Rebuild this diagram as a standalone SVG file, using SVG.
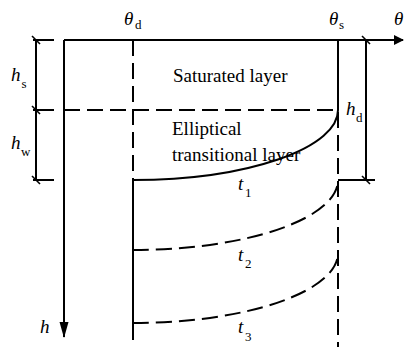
<svg xmlns="http://www.w3.org/2000/svg" width="404" height="347" viewBox="0 0 404 347">
<defs>
<style>
.ln{stroke:#000;stroke-width:2;fill:none}
.ds{stroke:#000;stroke-width:2;fill:none;stroke-dasharray:16 7}
.tk{stroke:#000;stroke-width:1.6}
.lb{font-family:"Liberation Serif","Times New Roman",serif;font-size:19px;fill:#000}
.it{font-family:"Liberation Serif","Times New Roman",serif;font-size:19px;font-style:italic;fill:#000}
.sb{font-family:"Liberation Serif","Times New Roman",serif;font-size:13px;fill:#000}
</style>
<marker id="ar" markerWidth="10" markerHeight="10" refX="9" refY="5" orient="auto" markerUnits="userSpaceOnUse">
<path d="M0,0 L10,5 L0,10 Z" fill="#000"/>
</marker>
<marker id="arv" markerWidth="16" markerHeight="10" refX="15" refY="5" orient="auto" markerUnits="userSpaceOnUse">
<path d="M0,0.5 L16,5 L0,9.5 Z" fill="#000"/>
</marker>
</defs>
<g id="connectors">
<line class="ln" x1="64" y1="40" x2="403" y2="40" marker-end="url(#ar)"/>
<line class="ln" x1="64" y1="40" x2="64" y2="337" marker-end="url(#arv)"/>
<line class="ln" x1="36" y1="40" x2="36" y2="180"/>
<line class="ln" x1="33" y1="40" x2="54" y2="40"/>
<line class="ln" x1="33" y1="110" x2="54" y2="110"/>
<line class="ln" x1="33" y1="180" x2="54" y2="180"/>
<line class="tk" x1="32" y1="36" x2="40" y2="44"/>
<line class="tk" x1="32" y1="106" x2="40" y2="114"/>
<line class="tk" x1="32" y1="176" x2="40" y2="184"/>
<line class="ds" x1="64" y1="110" x2="338" y2="110"/>
<line class="ds" x1="133" y1="40" x2="133" y2="180"/>
<line class="ln" x1="133" y1="180" x2="133" y2="340"/>
<line class="ln" x1="338" y1="40" x2="338" y2="110"/>
<line class="ds" x1="338" y1="112" x2="338" y2="347"/>
<polyline class="ln" points="366,40 366,180 338,180 375,180"/>
<line class="tk" x1="362" y1="36" x2="370" y2="44"/>
<line class="tk" x1="362" y1="176" x2="370" y2="184"/>
<path class="ln" d="M133,180 A205,70 0 0 0 338,110"/>
<path class="ds" d="M133,250 A205,70 0 0 0 338,180"/>
<path class="ds" d="M133,323 A205,70 0 0 0 338,253"/>
</g>
<g id="labels">
<text class="lb" x="173" y="82">Saturated layer</text>
<text class="lb" x="172" y="135">Elliptical</text>
<text class="lb" x="172" y="161">transitional layer</text>
<text class="it" x="124" y="25">θ</text><text class="sb" x="135" y="29">d</text>
<text class="it" x="329" y="25">θ</text><text class="sb" x="339" y="29">s</text>
<text class="it" x="394" y="25">θ</text>
<text class="it" x="11" y="81">h</text><text class="sb" x="21.5" y="88">s</text>
<text class="it" x="11" y="149">h</text><text class="sb" x="21" y="156">w</text>
<text class="it" x="346" y="115">h</text><text class="sb" x="356" y="122">d</text>
<text class="it" x="40" y="333">h</text>
<text class="it" x="238" y="190">t</text><text class="sb" x="245" y="197">1</text>
<text class="it" x="238" y="261">t</text><text class="sb" x="245" y="268">2</text>
<text class="it" x="238" y="333">t</text><text class="sb" x="245" y="341">3</text>
</g>
</svg>
